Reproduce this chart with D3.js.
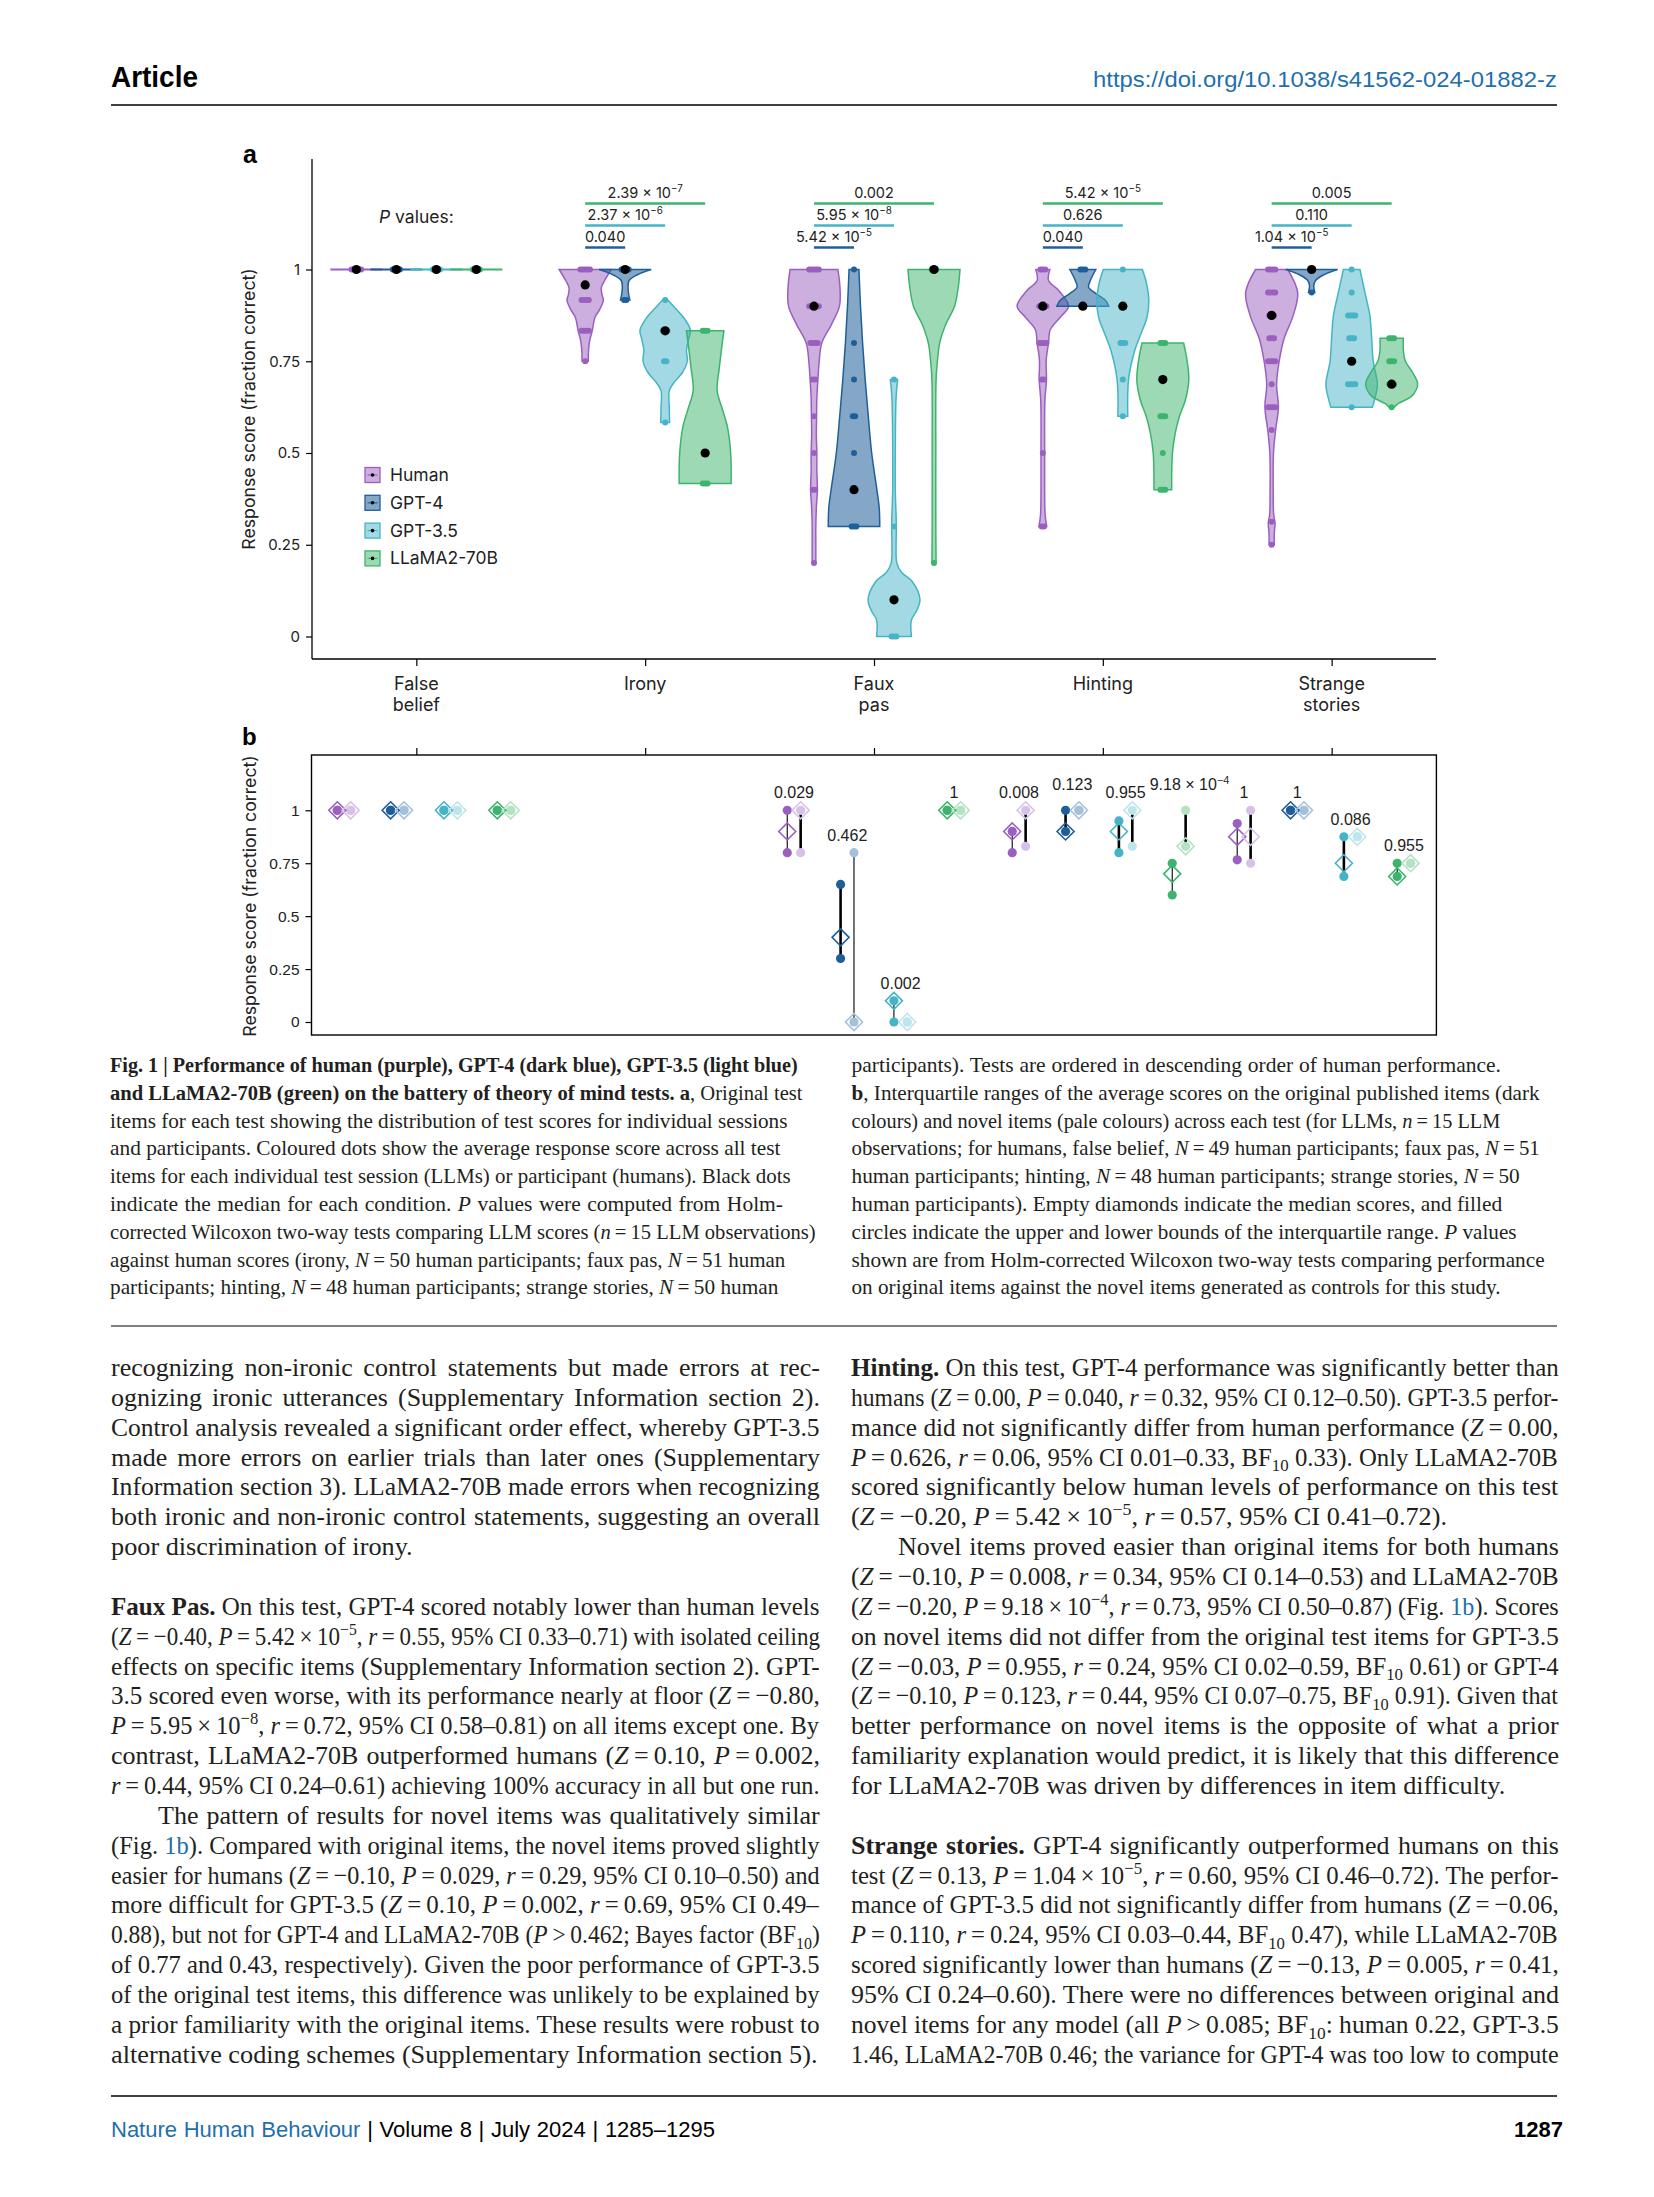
<!DOCTYPE html>
<html><head><meta charset="utf-8">
<script src="https://cdn.jsdelivr.net/npm/d3@7/dist/d3.min.js"></script>
<style>html,body{margin:0;padding:0;background:#fff}svg{display:block}</style>
</head><body>
<svg id="page" width="1654" height="2197" xmlns="http://www.w3.org/2000/svg"></svg>
<script>
// ======================= DATA =======================
const categories = ["False belief","Irony","Faux pas","Hinting","Strange stories"];
const categoryLabelLines = [["False","belief"],["Irony"],["Faux","pas"],["Hinting"],["Strange","stories"]];
const models = ["Human","GPT-4","GPT-3.5","LLaMA2-70B"];
const yTicks = [0,0.25,0.5,0.75,1];
const yTickLabels = ["0","0.25","0.5","0.75","1"];

// Panel a: violin outlines [score, relative half-width]
const falseBeliefViolins = [[[1,1]],[[1,1]],[[1,1]],[[1,1]]];
const ironyViolins = [
  [[1,1],[0.97,0.75],[0.95,0.62],[0.93,0.65],[0.917,0.7],[0.89,0.55],[0.87,0.38],[0.833,0.27],[0.805,0.17],[0.78,0.13],[0.75,0.12]],
  [[1,1],[0.985,0.45],[0.97,0.15],[0.95,0.11],[0.93,0.14],[0.917,0.18]],
  [[0.917,0.1],[0.89,0.45],[0.87,0.7],[0.835,0.97],[0.81,0.9],[0.78,0.82],[0.75,0.85],[0.72,0.67],[0.69,0.32],[0.67,0.16],[0.62,0.16],[0.583,0.17]],
  [[0.833,0.72],[0.79,0.64],[0.73,0.54],[0.67,0.46],[0.62,0.66],[0.57,0.86],[0.5,0.98],[0.417,1]]
];
const fauxPasViolins = [
  [[1,0.92],[0.95,1],[0.9,0.98],[0.85,0.67],[0.8,0.3],[0.75,0.2],[0.7,0.15],[0.65,0.11],[0.6,0.1],[0.55,0.09],[0.5,0.11],[0.45,0.11],[0.4,0.13],[0.35,0.09],[0.3,0.07],[0.25,0.07],[0.2,0.07]],
  [[1,0.19],[0.9,0.25],[0.8,0.33],[0.7,0.43],[0.6,0.55],[0.5,0.68],[0.4,0.88],[0.35,0.97],[0.3,0.99]],
  [[0.7,0.14],[0.65,0.08],[0.5,0.05],[0.4,0.05],[0.3,0.09],[0.25,0.08],[0.2,0.11],[0.175,0.29],[0.15,0.7],[0.1,1],[0.07,0.87],[0.045,0.67],[0,0.67]],
  [[1,1],[0.95,0.93],[0.9,0.79],[0.85,0.45],[0.8,0.22],[0.75,0.13],[0.7,0.08],[0.5,0.07],[0.3,0.07],[0.2,0.08]]
];
const hintingViolins = [
  [[1,0.27],[0.97,0.22],[0.943,0.61],[0.9,0.99],[0.87,0.67],[0.835,0.28],[0.8,0.22],[0.753,0.13],[0.7,0.14],[0.643,0.08],[0.5,0.07],[0.4,0.07],[0.33,0.09],[0.3,0.15]],
  [[1,0.5],[0.97,0.29],[0.952,0.22],[0.934,0.51],[0.916,0.87],[0.9,1]],
  [[1,0.75],[0.963,0.91],[0.915,1],[0.87,0.93],[0.82,0.67],[0.78,0.46],[0.7,0.22],[0.6,0.19]],
  [[0.8,0.8],[0.753,0.93],[0.7,1],[0.645,0.87],[0.6,0.64],[0.555,0.48],[0.5,0.37],[0.4,0.34]]
];
const strangeViolins = [
  [[1,0.62],[0.9375,1],[0.875,0.83],[0.8125,0.48],[0.75,0.29],[0.6875,0.19],[0.625,0.26],[0.5625,0.15],[0.5,0.07],[0.4,0.06],[0.33,0.08],[0.31,0.13],[0.28,0.1],[0.25,0.1]],
  [[1,1],[0.985,0.45],[0.97,0.15],[0.955,0.08],[0.9375,0.12]],
  [[1,0.32],[0.9375,0.51],[0.875,0.7],[0.8125,0.77],[0.75,0.83],[0.6875,0.99],[0.65,0.9],[0.625,0.8]],
  [[0.8125,0.45],[0.78,0.45],[0.75,0.53],[0.72,0.8],[0.6875,1],[0.655,0.77],[0.635,0.26],[0.625,0.1]]
];

// Panel a: individual scores [score, count]
const falseBeliefDots = [[[1,5]],[[1,4]],[[1,4]],[[1,4]]];
const ironyDots = [[[1,5],[0.917,4],[0.833,4],[0.75,1]],[[1,4],[0.917,2]],[[0.917,1],[0.833,3],[0.75,2],[0.583,1]],[[0.833,3],[0.5,2],[0.417,3]]];
const fauxPasDots = [[[1,5],[0.9,5],[0.8,4],[0.7,2],[0.6,1],[0.5,1],[0.4,2],[0.2,1]],[[1,1],[0.8,1],[0.7,1],[0.6,2],[0.5,1],[0.4,1],[0.3,3]],[[0.7,1],[0.3,1],[0.1,1],[0,3]],[[1,3],[0.2,1]]];
const hintingDots = [[[1,3],[0.9,4],[0.8,4],[0.7,2],[0.5,1],[0.3,2]],[[1,3],[0.9,2]],[[1,1],[0.9,2],[0.8,3],[0.7,1],[0.6,1]],[[0.8,3],[0.7,2],[0.6,3],[0.5,1],[0.4,3]]];
const strangeDots = [[[1,4],[0.9375,4],[0.875,3],[0.8125,3],[0.75,4],[0.6875,1],[0.625,4],[0.5625,1],[0.3125,1],[0.25,1]],[[1,2],[0.9375,1]],[[1,1],[0.9375,1],[0.875,4],[0.8125,3],[0.75,2],[0.6875,4],[0.625,1]],[[0.8125,3],[0.75,3],[0.6875,3],[0.625,1]]];

// Panel a: medians (Human, GPT-4, GPT-3.5, LLaMA2-70B)
const falseBeliefMedians = [1,1,1,1];
const ironyMedians = [0.958,1,0.833,0.5];
const fauxPasMedians = [0.9,0.4,0.1,1];
const hintingMedians = [0.9,0.9,0.9,0.7];
const strangeMedians = [0.875,1,0.75,0.6875];

// Panel a: P values vs humans (GPT-4, GPT-3.5, LLaMA2-70B)
const ironyP = ["0.040","2.37 × 10^{−6}","2.39 × 10^{−7}"];
const fauxPasP = ["5.42 × 10^{−5}","5.95 × 10^{−8}","0.002"];
const hintingP = ["0.040","0.626","5.42 × 10^{−5}"];
const strangeP = ["1.04 × 10^{−5}","0.110","0.005"];

// Panel b: [q1, median, q3] per model, original and novel items
const falseBeliefOriginal = [[1,1,1],[1,1,1],[1,1,1],[1,1,1]];
const falseBeliefNovel    = [[1,1,1],[1,1,1],[1,1,1],[1,1,1]];
const fauxPasOriginal = [[0.8,0.9,1],[0.3,0.4,0.65],[0,0.1,0.1],[1,1,1]];
const fauxPasNovel    = [[0.8,1,1],[0,0,0.8],[0,0,0],[1,1,1]];
const fauxPasNovelP   = ["0.029","0.462","0.002","1"];
const hintingOriginal = [[0.8,0.9,0.9],[0.9,0.9,1],[0.8,0.9,0.95],[0.6,0.7,0.75]];
const hintingNovel    = [[0.83,1,1],[1,1,1],[0.83,1,1],[0.83,0.83,1]];
const hintingNovelP   = ["0.008","0.123","0.955","9.18 × 10^{−4}"];
const strangeOriginal = [[0.766,0.875,0.9375],[1,1,1],[0.6875,0.75,0.875],[0.6875,0.6875,0.75]];
const strangeNovel    = [[0.75,0.875,1],[1,1,1],[0.875,0.875,0.875],[0.75,0.75,0.75]];
const strangeNovelP   = ["1","1","0.086","0.955"];

// ======================= STYLE =======================
const darkColors = ["#9b5fc0","#1f5f99","#45b4c6","#3db46d"];
const paleColors = ["#d8c1e7","#a6c0da","#bee5eb","#b4e2c3"];
const fillOpacity = [0.5,0.55,0.5,0.5];
const linkBlue = "#1f6fad";
const ink = "#231f20";
const chartFont = "Inter, 'Noto Sans', sans-serif";
const bFont = "'Liberation Sans', Arial, sans-serif";
const serif = "'Liberation Serif', 'Times New Roman', serif";
const sans = "'Liberation Sans', Arial, sans-serif";
const thickIqr = new Set(["2-0-n","2-1-o","3-0-n","3-1-o","3-2-o","3-2-n","3-3-n","4-0-n","4-2-o"]);

const svg = d3.select("#page");

// ---------- rich text helpers ----------
function parseRich(s){
  const segs=[]; let i=0, bold=false, italic=false, link=false, buf="";
  const push=()=>{ if(buf){ segs.push({t:buf,bold,italic,link}); buf=""; } };
  while(i<s.length){
    if(s.startsWith("**",i)){ push(); bold=!bold; i+=2; continue; }
    if(s[i]==="*"){ push(); italic=!italic; i++; continue; }
    if(s.startsWith("[[",i)){ push(); link=true; i+=2; continue; }
    if(s.startsWith("]]",i)){ push(); link=false; i+=2; continue; }
    if((s[i]==="^"||s[i]==="_") && s[i+1]==="{"){
      push(); const j=s.indexOf("}",i);
      segs.push({t:s.slice(i+2,j),bold,italic,link,shift:s[i]==="^"?"sup":"sub"}); i=j+1; continue;
    }
    buf+=s[i]; i++;
  }
  push(); return segs;
}
function richText(parent, str, fs, family, color){
  const t = parent.append("text").attr("font-family",family).attr("font-size",fs).attr("fill",color||ink);
  let shifted=0;
  parseRich(str).forEach(sg=>{
    const ts=t.append("tspan").text(sg.t);
    if(sg.bold) ts.attr("font-weight","bold");
    if(sg.italic) ts.attr("font-style","italic");
    if(sg.link) ts.attr("fill",linkBlue);
    const target = sg.shift==="sup" ? -fs*0.38 : sg.shift==="sub" ? fs*0.22 : 0;
    if(target!==shifted){ ts.attr("dy",target-shifted); shifted=target; }
    if(sg.shift) ts.attr("font-size",fs*0.68);
  });
  return t;
}
// width: target width (fit), scaleX: fixed horizontal scale when no width
function fitLine(parent, x, y, str, fs, family, width, color, scaleX){
  const g = parent.append("g").attr("transform",`translate(${x},${y})`);
  const t = richText(g, str, fs, family, color);
  if(width){
    let w = t.node().getBBox().width;
    const nsp = (str.match(/ /g)||[]).length;
    if(w < width && nsp>0){
      t.attr("word-spacing", Math.min((width-w)/nsp, fs*0.22));
      w = t.node().getBBox().width;
    }
    const s = width/w;
    if(Math.abs(s-1)>0.002) t.attr("transform",`scale(${s},1)`);
  } else if(scaleX && Math.abs(scaleX-1)>0.002){
    t.attr("transform",`scale(${scaleX},1)`);
  }
  return t;
}
const prep = s => s.replace(/ = /g,"\u2009=\u2009").replace(/ × /g,"\u2009×\u2009").replace(/ > /g,"\u2009>\u2009");

// ======================= HEADER / FOOTER =======================
fitLine(svg, 111, 87, "**Article**", 29, sans, 87, "#000");
fitLine(svg, 1093, 87, "https://doi.org/10.1038/s41562-024-01882-z", 22, sans, 464, linkBlue);
svg.append("line").attr("x1",111).attr("x2",1557).attr("y1",105).attr("y2",105).attr("stroke","#000").attr("stroke-width",1.6);

svg.append("line").attr("x1",111).attr("x2",1557).attr("y1",2096).attr("y2",2096).attr("stroke","#000").attr("stroke-width",1.6);
fitLine(svg, 111, 2137, "[[Nature Human Behaviour]] | Volume 8 | July 2024 | 1285–1295", 22, sans, 604, "#000");
fitLine(svg, 1514, 2137, "**1287**", 22, sans, 49, "#000");
svg.append("line").attr("x1",111).attr("x2",1557).attr("y1",1326).attr("y2",1326).attr("stroke","#000").attr("stroke-width",1.2);

// ======================= PANEL A =======================
const xA = d3.scalePoint().domain(categories).range([312,1436]).padding(0.456);
const yA = d3.scaleLinear().domain([0,1]).range([636.5,269.5]);
const dodgeA = d3.scalePoint().domain(models).range([-60,60]);
const VW = 26;
const gA = svg.append("g");

gA.append("text").attr("x",243).attr("y",163).attr("font-family",sans).attr("font-weight","bold").attr("font-size",25).attr("fill","#000").text("a");

// axes
gA.append("line").attr("x1",312).attr("x2",312).attr("y1",159).attr("y2",659).attr("stroke","#000").attr("stroke-width",1.3);
gA.append("line").attr("x1",312).attr("x2",1436).attr("y1",659).attr("y2",659).attr("stroke","#000").attr("stroke-width",1.3);
const yAxisA = gA.append("g").attr("transform","translate(312,0)")
  .call(d3.axisLeft(yA).tickValues(yTicks).tickFormat((d,i)=>yTickLabels[i]).tickSize(6).tickPadding(6));
yAxisA.select(".domain").remove();
yAxisA.selectAll("line").attr("stroke","#000").attr("stroke-width",1.2);
yAxisA.selectAll("text").attr("font-family",chartFont).attr("font-size",15).attr("fill","#222");
const xAxisA = gA.append("g").attr("transform","translate(0,659)")
  .call(d3.axisBottom(xA).tickSize(7).tickFormat(""));
xAxisA.select(".domain").remove();
xAxisA.selectAll("line").attr("stroke","#000").attr("stroke-width",1.2);
categories.forEach((c,i)=>{
  categoryLabelLines[i].forEach((ln,k)=>{
    gA.append("text").attr("x",xA(c)).attr("y",690+k*21).attr("text-anchor","middle")
      .attr("font-family",chartFont).attr("font-size",18).attr("fill","#222").text(ln);
  });
});
gA.append("text").attr("transform","translate(255,409) rotate(-90)").attr("text-anchor","middle")
  .attr("font-family",chartFont).attr("font-size",17.7).attr("fill","#222").text("Response score (fraction correct)");

// violins
const violinSets = [falseBeliefViolins, ironyViolins, fauxPasViolins, hintingViolins, strangeViolins];
const dotSets = [falseBeliefDots, ironyDots, fauxPasDots, hintingDots, strangeDots];
const medianSets = [falseBeliefMedians, ironyMedians, fauxPasMedians, hintingMedians, strangeMedians];
const pSetsA = [null, ironyP, fauxPasP, hintingP, strangeP];

const gV = gA.append("g"), gD = gA.append("g"), gM = gA.append("g");
categories.forEach((c,ci)=>{
  models.forEach((m,j)=>{
    const cx = xA(c)+dodgeA(m);
    const prof = violinSets[ci][j];
    if(prof.length===1){
      gV.append("line").attr("x1",cx-VW*prof[0][1]).attr("x2",cx+VW*prof[0][1])
        .attr("y1",yA(prof[0][0])).attr("y2",yA(prof[0][0])).attr("stroke",darkColors[j]).attr("stroke-width",1.8);
    } else {
      const area = d3.area().curve(d3.curveCatmullRom.alpha(0.5))
        .y(d=>yA(d[0])).x0(d=>cx-d[1]*VW).x1(d=>cx+d[1]*VW);
      gV.append("path").attr("d",area(prof)).attr("fill",darkColors[j]).attr("fill-opacity",fillOpacity[j])
        .attr("stroke",darkColors[j]).attr("stroke-width",1.5);
    }
    dotSets[ci][j].forEach(([v,n])=>{
      for(let k=0;k<n;k++){
        gD.append("circle").attr("cx",cx+(k-(n-1)/2)*2.4).attr("cy",yA(v)).attr("r",3).attr("fill",darkColors[j]);
      }
    });
    gM.append("circle").attr("cx",cx).attr("cy",yA(medianSets[ci][j])).attr("r",4.6).attr("fill","#000");
  });
  const ps = pSetsA[ci];
  if(ps){
    ps.forEach((p,k)=>{
      const j=k+1;
      const x0 = xA(c)+dodgeA(models[0]), x1 = xA(c)+dodgeA(models[j]);
      const yl = yA(1)-22*j;
      gA.append("line").attr("x1",x0).attr("x2",x1).attr("y1",yl).attr("y2",yl).attr("stroke",darkColors[j]).attr("stroke-width",2.3);
      const t = richText(gA, p, 14.5, chartFont, "#222");
      t.attr("x",(x0+x1)/2).attr("y",yl-5.5).attr("text-anchor","middle");
    });
  }
});
// "P values:" label
richText(gA, "*P* values:", 17.5, chartFont, "#222").attr("x",xA(categories[0])).attr("y",yA(1)-47).attr("text-anchor","middle");

// legend
const legend = gA.append("g");
models.forEach((m,j)=>{
  const cy = 475 + j*27.8;
  legend.append("rect").attr("x",365).attr("y",cy-7.5).attr("width",15).attr("height",15)
    .attr("fill",darkColors[j]).attr("fill-opacity",fillOpacity[j]).attr("stroke",darkColors[j]).attr("stroke-width",1.3);
  legend.append("line").attr("x1",367.5).attr("x2",377.5).attr("y1",cy).attr("y2",cy).attr("stroke",darkColors[j]).attr("stroke-width",1.2);
  legend.append("circle").attr("cx",372.5).attr("cy",cy).attr("r",1.8).attr("fill","#000");
  legend.append("text").attr("x",390).attr("y",cy+6).attr("font-family",chartFont).attr("font-size",17.5).attr("fill","#222").text(m);
});

// ======================= PANEL B =======================
const xB = d3.scalePoint().domain(categories).range([311.5,1436.4]).padding(0.5);
const yB = d3.scaleLinear().domain([0,1]).range([1022,810.3]);
const dodgeB = d3.scalePoint().domain(models).range([-80,80]);
const pairOffset = 6.7;
const gB = svg.append("g");
gB.append("text").attr("x",242).attr("y",745).attr("font-family",sans).attr("font-weight","bold").attr("font-size",24).attr("fill","#000").text("b");
gB.append("rect").attr("x",311.5).attr("y",755).attr("width",1436.4-311.5).attr("height",1035-755)
  .attr("fill","none").attr("stroke","#000").attr("stroke-width",1.4);
const yAxisB = gB.append("g").attr("transform","translate(311.5,0)")
  .call(d3.axisLeft(yB).tickValues(yTicks).tickFormat((d,i)=>yTickLabels[i]).tickSize(6).tickPadding(6));
yAxisB.select(".domain").remove();
yAxisB.selectAll("line").attr("stroke","#000").attr("stroke-width",1.2);
yAxisB.selectAll("text").attr("font-family",bFont).attr("font-size",15.5).attr("fill","#222");
const topAxisB = gB.append("g").attr("transform","translate(0,755)")
  .call(d3.axisTop(xA).tickSize(7).tickFormat(""));
topAxisB.select(".domain").remove();
topAxisB.selectAll("line").attr("stroke","#000").attr("stroke-width",1.2);
gB.append("text").attr("transform","translate(256,896) rotate(-90)").attr("text-anchor","middle")
  .attr("font-family",chartFont).attr("font-size",17.7).attr("fill","#222").text("Response score (fraction correct)");

const origSets = [falseBeliefOriginal, null, fauxPasOriginal, hintingOriginal, strangeOriginal];
const novelSets = [falseBeliefNovel, null, fauxPasNovel, hintingNovel, strangeNovel];
const pSetsB = [null, null, fauxPasNovelP, hintingNovelP, strangeNovelP];
const gBL = gB.append("g"), gBC = gB.append("g"), gBD = gB.append("g"), gBT = gB.append("g");
const placed = [];
categories.forEach((c,ci)=>{
  if(!origSets[ci]) return;
  models.forEach((m,j)=>{
    const gx = xB(c)+dodgeB(m);
    [["o",-pairOffset,origSets[ci][j],darkColors[j]],["n",pairOffset,novelSets[ci][j],paleColors[j]]].forEach(([kind,dx,q,col])=>{
      const x = gx+dx;
      if(q[0]!==q[2]){
        gBL.append("line").attr("x1",x).attr("x2",x).attr("y1",yB(q[0])).attr("y2",yB(q[2]))
          .attr("stroke","#000").attr("stroke-width",thickIqr.has(`${ci}-${j}-${kind}`)?2.6:1.1);
      }
      [q[0],q[2]].forEach(v=>gBC.append("circle").attr("cx",x).attr("cy",yB(v)).attr("r",4.6).attr("fill",col));
      const ym = yB(q[1]);
      gBD.append("path").attr("d",`M${x},${ym-8.5}L${x+8.5},${ym}L${x},${ym+8.5}L${x-8.5},${ym}Z`)
        .attr("fill","none").attr("stroke",col).attr("stroke-width",1.6);
    });
    const ps = pSetsB[ci];
    if(ps){
      let yl = yB(Math.max(origSets[ci][j][2], novelSets[ci][j][2])) - 12;
      const t = richText(gBT, ps[j], 16, bFont, "#222").attr("x",gx).attr("y",yl).attr("text-anchor","middle");
      let bb = t.node().getBBox();
      const clash = placed.some(p=>Math.abs(p.y-yl)<5 && bb.x < p.x1+18 && bb.x+bb.width > p.x0-18);
      if(clash){
        yl -= 8; t.attr("y",yl);
        const left = placed.filter(p=>p.x1 < bb.x+bb.width).reduce((a,p)=>Math.max(a,p.x1), -Infinity);
        if(bb.x < left+4){ t.attr("x", gx + (left+4-bb.x)); bb = t.node().getBBox(); }
      }
      placed.push({x0:bb.x,x1:bb.x+bb.width,y:yl});
    }
  });
});

// ======================= CAPTION =======================
const captionLeft = [
  "**Fig. 1 | Performance of human (purple), GPT-4 (dark blue), GPT-3.5 (light blue)**",
  "**and LLaMA2-70B (green) on the battery of theory of mind tests. a**, Original test",
  "items for each test showing the distribution of test scores for individual sessions",
  "and participants. Coloured dots show the average response score across all test",
  "items for each individual test session (LLMs) or participant (humans). Black dots",
  "indicate the median for each condition. *P* values were computed from Holm-",
  "corrected Wilcoxon two-way tests comparing LLM scores (*n* = 15 LLM observations)",
  "against human scores (irony, *N* = 50 human participants; faux pas, *N* = 51 human",
  "participants; hinting, *N* = 48 human participants; strange stories, *N* = 50 human"
];
const captionLeftEnds = [798,803,788,781,791,783,816,786,779];
const captionRight = [
  "participants). Tests are ordered in descending order of human performance.",
  "**b**, Interquartile ranges of the average scores on the original published items (dark",
  "colours) and novel items (pale colours) across each test (for LLMs, *n* = 15 LLM",
  "observations; for humans, false belief, *N* = 49 human participants; faux pas, *N* = 51",
  "human participants; hinting, *N* = 48 human participants; strange stories, *N* = 50",
  "human participants). Empty diamonds indicate the median scores, and filled",
  "circles indicate the upper and lower bounds of the interquartile range. *P* values",
  "shown are from Holm-corrected Wilcoxon two-way tests comparing performance",
  "on original items against the novel items generated as controls for this study."
];
const captionRightEnds = [1501,1540,1501,1540,1520,1503,1517,1545,1501];
captionLeft.forEach((s,i)=>fitLine(svg,110,1072+i*27.8,prep(s),21.5,serif,captionLeftEnds[i]-110));
captionRight.forEach((s,i)=>fitLine(svg,851.5,1072+i*27.8,prep(s),21.5,serif,captionRightEnds[i]-851.5));

// ======================= BODY TEXT =======================
const bodyLeft = [
  "recognizing non-ironic control statements but made errors at rec-",
  "ognizing ironic utterances (Supplementary Information section 2).",
  "Control analysis revealed a significant order effect, whereby GPT-3.5",
  "made more errors on earlier trials than later ones (Supplementary",
  "Information section 3). LLaMA2-70B made errors when recognizing",
  "both ironic and non-ironic control statements, suggesting an overall",
  "poor discrimination of irony.",
  "",
  "**Faux Pas.** On this test, GPT-4 scored notably lower than human levels",
  "(*Z* = −0.40, *P* = 5.42 × 10^{−5}, *r* = 0.55, 95% CI 0.33–0.71) with isolated ceiling",
  "effects on specific items (Supplementary Information section 2). GPT-",
  "3.5 scored even worse, with its performance nearly at floor (*Z* = −0.80,",
  "*P* = 5.95 × 10^{−8}, *r* = 0.72, 95% CI 0.58–0.81) on all items except one. By",
  "contrast, LLaMA2-70B outperformed humans (*Z* = 0.10, *P* = 0.002,",
  "*r* = 0.44, 95% CI 0.24–0.61) achieving 100% accuracy in all but one run.",
  "The pattern of results for novel items was qualitatively similar",
  "(Fig. [[1b]]). Compared with original items, the novel items proved slightly",
  "easier for humans (*Z* = −0.10, *P* = 0.029, *r* = 0.29, 95% CI 0.10–0.50) and",
  "more difficult for GPT-3.5 (*Z* = 0.10, *P* = 0.002, *r* = 0.69, 95% CI 0.49–",
  "0.88), but not for GPT-4 and LLaMA2-70B (*P* > 0.462; Bayes factor (BF_{10})",
  "of 0.77 and 0.43, respectively). Given the poor performance of GPT-3.5",
  "of the original test items, this difference was unlikely to be explained by",
  "a prior familiarity with the original items. These results were robust to",
  "alternative coding schemes (Supplementary Information section 5)."
];
const bodyRight = [
  "**Hinting.** On this test, GPT-4 performance was significantly better than",
  "humans (*Z* = 0.00, *P* = 0.040, *r* = 0.32, 95% CI 0.12–0.50). GPT-3.5 perfor-",
  "mance did not significantly differ from human performance (*Z* = 0.00,",
  "*P* = 0.626, *r* = 0.06, 95% CI 0.01–0.33, BF_{10} 0.33). Only LLaMA2-70B",
  "scored significantly below human levels of performance on this test",
  "(*Z* = −0.20, *P* = 5.42 × 10^{−5}, *r* = 0.57, 95% CI 0.41–0.72).",
  "Novel items proved easier than original items for both humans",
  "(*Z* = −0.10, *P* = 0.008, *r* = 0.34, 95% CI 0.14–0.53) and LLaMA2-70B",
  "(*Z* = −0.20, *P* = 9.18 × 10^{−4}, *r* = 0.73, 95% CI 0.50–0.87) (Fig. [[1b]]). Scores",
  "on novel items did not differ from the original test items for GPT-3.5",
  "(*Z* = −0.03, *P* = 0.955, *r* = 0.24, 95% CI 0.02–0.59, BF_{10} 0.61) or GPT-4",
  "(*Z* = −0.10, *P* = 0.123, *r* = 0.44, 95% CI 0.07–0.75, BF_{10} 0.91). Given that",
  "better performance on novel items is the opposite of what a prior",
  "familiarity explanation would predict, it is likely that this difference",
  "for LLaMA2-70B was driven by differences in item difficulty.",
  "",
  "**Strange stories.** GPT-4 significantly outperformed humans on this",
  "test (*Z* = 0.13, *P* = 1.04 × 10^{−5}, *r* = 0.60, 95% CI 0.46–0.72). The perfor-",
  "mance of GPT-3.5 did not significantly differ from humans (*Z* = −0.06,",
  "*P* = 0.110, *r* = 0.24, 95% CI 0.03–0.44, BF_{10} 0.47), while LLaMA2-70B",
  "scored significantly lower than humans (*Z* = −0.13, *P* = 0.005, *r* = 0.41,",
  "95% CI 0.24–0.60). There were no differences between original and",
  "novel items for any model (all *P* > 0.085; BF_{10}: human 0.22, GPT-3.5",
  "1.46, LLaMA2-70B 0.46; the variance for GPT-4 was too low to compute"
];
// paragraph-final lines are set at natural width
const bodyLeftLayout = {x:111, right:820, indent:{15:158}, ragged:{6:true, 23:true}};
const bodyRightLayout = {x:851, right:1559, indent:{6:898}, ragged:{5:true, 14:true}};
const bodyTop = 1376, bodyPitch = 29.86, bodyFs = 26;
[[bodyLeft,bodyLeftLayout],[bodyRight,bodyRightLayout]].forEach(([lines,lay])=>{
  lines.forEach((s,i)=>{
    if(!s) return;
    const x = lay.indent[i] || lay.x;
    if(lay.ragged[i]) fitLine(svg, x, bodyTop+i*bodyPitch, prep(s), bodyFs, serif, null, ink, 1.01);
    else fitLine(svg, x, bodyTop+i*bodyPitch, prep(s), bodyFs, serif, lay.right-x);
  });
});
</script>
</body></html>
